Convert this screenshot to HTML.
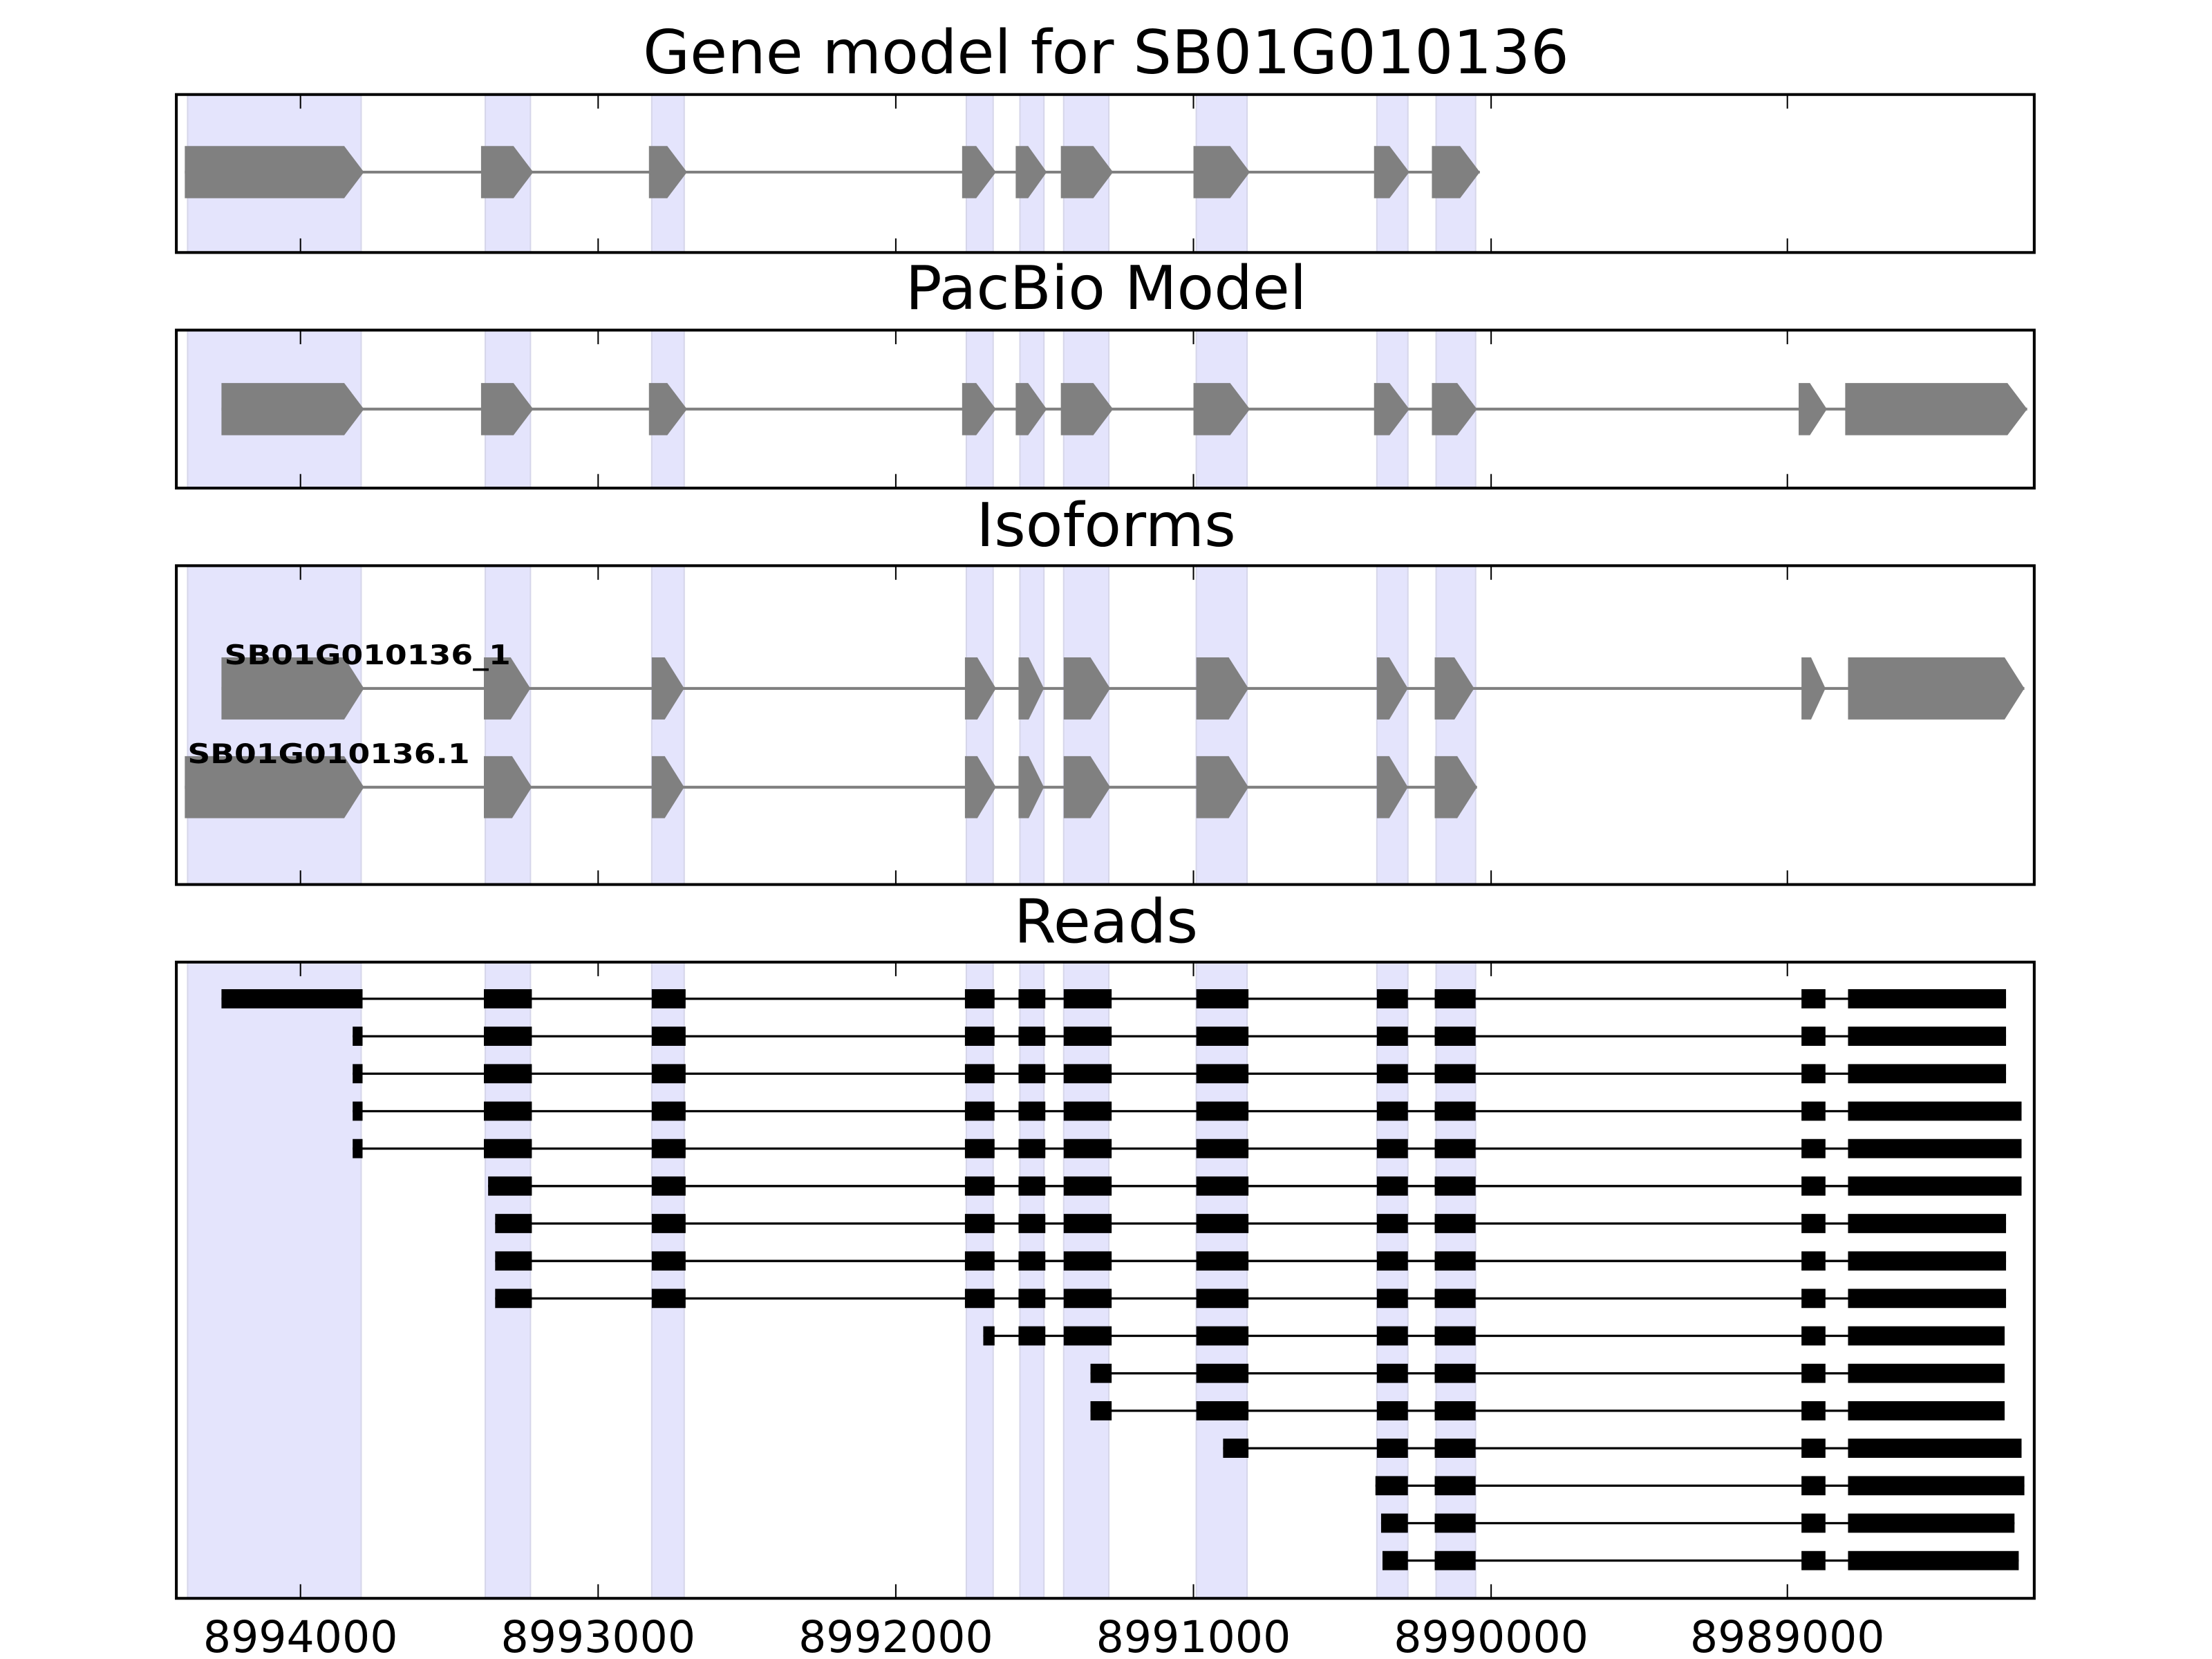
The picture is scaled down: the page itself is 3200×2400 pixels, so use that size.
<!DOCTYPE html>
<html><head><meta charset="utf-8"><style>html,body{margin:0;padding:0;background:#fff}svg{display:block}</style></head>
<body>
<svg id="s" xmlns="http://www.w3.org/2000/svg" width="3200" height="2400" viewBox="0 0 1568 1176">
<rect x="0" y="0" width="1568" height="1176" fill="#fff"/>
<g id="bands"></g>
<g id="shapes"></g>
<g id="frames"></g>
<g font-family="DejaVu Sans, Liberation Sans, sans-serif" fill="#000">
<text x="784" y="52" font-size="43" text-anchor="middle">Gene model for SB01G010136</text>
<text x="784" y="219" font-size="43" text-anchor="middle">PacBio Model</text>
<text x="784" y="387" font-size="43" text-anchor="middle">Isoforms</text>
<text x="784" y="668" font-size="43" text-anchor="middle">Reads</text>
<text x="159" y="471" font-size="19" font-weight="bold" textLength="203" lengthAdjust="spacingAndGlyphs">SB01G010136_1</text>
<text x="133" y="541" font-size="19" font-weight="bold" textLength="200" lengthAdjust="spacingAndGlyphs">SB01G010136.1</text>
<text x="213" y="1171" font-size="31" text-anchor="middle">8994000</text>
<text x="424" y="1171" font-size="31" text-anchor="middle">8993000</text>
<text x="635" y="1171" font-size="31" text-anchor="middle">8992000</text>
<text x="846" y="1171" font-size="31" text-anchor="middle">8991000</text>
<text x="1057" y="1171" font-size="31" text-anchor="middle">8990000</text>
<text x="1267" y="1171" font-size="31" text-anchor="middle">8989000</text>
</g>
</svg>
<script>
var NS="http://www.w3.org/2000/svg";
function el(p,t,a){var e=document.createElementNS(NS,t);for(var k in a)e.setAttribute(k,a[k]);document.getElementById(p).appendChild(e);return e;}
var panels=[[67,179],[234,346],[401,627],[682,1133]];
var bands=[[133,256],[344,376],[462,485],[685,704],[723,740],[754,786],[848,884],[976,998],[1018,1046]];
panels.forEach(function(p){
 bands.forEach(function(b){
  el("bands","rect",{x:b[0],y:p[0],width:b[1]-b[0],height:p[1]-p[0],fill:"#e4e4fc"});
  el("bands","line",{x1:b[0],y1:p[0],x2:b[0],y2:p[1],stroke:"#d6d6ea","stroke-width":1});
  el("bands","line",{x1:b[1],y1:p[0],x2:b[1],y2:p[1],stroke:"#d6d6ea","stroke-width":1});
 });
 el("frames","rect",{x:125,y:p[0],width:1317,height:p[1]-p[0],fill:"none",stroke:"#000","stroke-width":2});
 [213,424,635,846,1057,1267].forEach(function(x){
  el("frames","line",{x1:x,y1:p[0],x2:x,y2:p[0]+10,stroke:"#000","stroke-width":1});
  el("frames","line",{x1:x,y1:p[1],x2:x,y2:p[1]-10,stroke:"#000","stroke-width":1});
 });
});
function gene(ex,c,h){
 el("shapes","line",{x1:ex[0][0],y1:c,x2:ex[ex.length-1][1],y2:c,stroke:"#808080","stroke-width":2});
 ex.forEach(function(e){var a=e[0],b=e[1],t=Math.min(14,(b-a)*0.6);
  el("shapes","polygon",{points:[a,c-h,b-t,c-h,b,c,b-t,c+h,a,c+h].join(" "),fill:"#808080"});});
}
var g1=[[131,258],[341,378],[460,487],[682,706],[720,742],[752,789],[846,886],[974,999],[1015,1049]];
gene(g1,122,18.5);
var g2=[[157,258],[341,378],[460,487],[682,706],[720,742],[752,789],[846,886],[974,999],[1015,1047],[1275,1295],[1308,1437]];
gene(g2,290,18.5);
gene([[157,258],[343,376],[462,485],[684,706],[722,740],[754,787],[848,885],[976,998],[1017,1045],[1277,1294],[1310,1435]],488,22);
gene([[131,258],[343,377],[462,485],[684,706],[722,740],[754,787],[848,885],[976,998],[1017,1047]],558,22);
var E=[[null,257],[343,377],[462,486],[684,705],[722,741],[754,788],[848,885],[976,998],[1017,1046],[1277,1294],[1310,null]];
var rows=[[0,157,1422],[0,250,1422],[0,250,1422],[0,250,1433],[0,250,1433],[1,346,1433],[1,351,1422],[1,351,1422],[1,351,1422],[3,697,1421],[5,773,1421],[5,773,1421],[6,867,1433],[7,975,1435],[7,979,1428],[7,980,1431]];
rows.forEach(function(r,i){
 var c=708+i*26.55, ex=[];
 for(var k=r[0];k<E.length;k++){var a=E[k][0],b=E[k][1]; if(k==r[0])a=r[1]; if(k==E.length-1)b=r[2]; ex.push([a,b]);}
 el("shapes","line",{x1:ex[0][0],y1:c,x2:ex[ex.length-1][1],y2:c,stroke:"#000","stroke-width":1.6});
 ex.forEach(function(e){el("shapes","rect",{x:e[0],y:c-6.8,width:e[1]-e[0],height:13.6,fill:"#000"});});
});
</script>
</body></html>
